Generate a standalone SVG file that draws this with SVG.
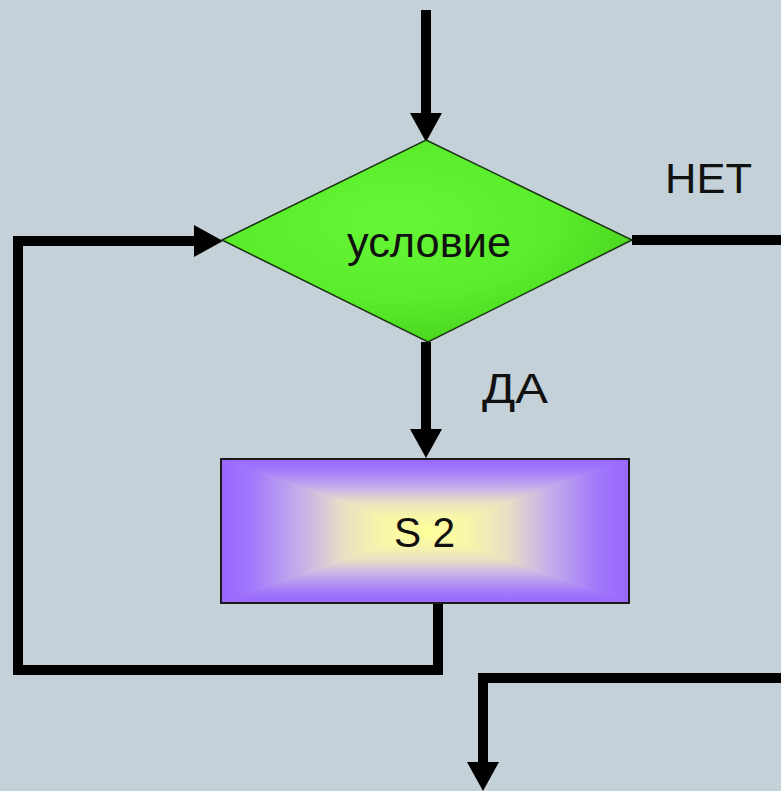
<svg xmlns="http://www.w3.org/2000/svg" width="781" height="791" viewBox="0 0 781 791">
  <style>
    .wire { fill: none; stroke: #000; stroke-width: 10; stroke-linejoin: miter; }
    .label { font-family: "Liberation Sans", Arial, sans-serif; fill: #111; }
  </style>
  <defs>
    <marker id="head" markerUnits="userSpaceOnUse" markerWidth="29" markerHeight="32" refX="0" refY="16" orient="auto" overflow="visible">
      <path d="M0,0 L29,16 L0,32 z" fill="#000"/>
    </marker>
    <radialGradient id="green" cx="0.42" cy="0.4" r="0.65">
      <stop offset="0" stop-color="#66f636"/>
      <stop offset="0.6" stop-color="#5aed2b"/>
      <stop offset="1" stop-color="#47d21f"/>
    </radialGradient>
    <!-- rectangular "from centre" fill: a vertical ramp for the top and bottom
         quarters, horizontal ramps for the left and right ones, seams on the diagonals -->
    <linearGradient id="fillV" x1="0" y1="459" x2="0" y2="603" gradientUnits="userSpaceOnUse">
      <stop offset="0" stop-color="#9966ff"/>
      <stop offset="0.075" stop-color="#a078fb"/>
      <stop offset="0.2" stop-color="#c8b0ea"/>
      <stop offset="0.3" stop-color="#e8e0c4"/>
      <stop offset="0.4" stop-color="#f8f6a8"/>
      <stop offset="0.5" stop-color="#ffff99"/>
      <stop offset="0.6" stop-color="#f8f6a8"/>
      <stop offset="0.7" stop-color="#e8e0c4"/>
      <stop offset="0.8" stop-color="#c8b0ea"/>
      <stop offset="0.925" stop-color="#a078fb"/>
      <stop offset="1" stop-color="#9966ff"/>
    </linearGradient>
    <linearGradient id="fillL" x1="221" y1="0" x2="425" y2="0" gradientUnits="userSpaceOnUse">
      <stop offset="0" stop-color="#9966ff"/>
      <stop offset="0.15" stop-color="#a078fb"/>
      <stop offset="0.4" stop-color="#c8b0ea"/>
      <stop offset="0.6" stop-color="#e8e0c4"/>
      <stop offset="0.8" stop-color="#f8f6a8"/>
      <stop offset="1" stop-color="#ffff99"/>
    </linearGradient>
    <linearGradient id="fillR" x1="629" y1="0" x2="425" y2="0" gradientUnits="userSpaceOnUse">
      <stop offset="0" stop-color="#9966ff"/>
      <stop offset="0.15" stop-color="#a078fb"/>
      <stop offset="0.4" stop-color="#c8b0ea"/>
      <stop offset="0.6" stop-color="#e8e0c4"/>
      <stop offset="0.8" stop-color="#f8f6a8"/>
      <stop offset="1" stop-color="#ffff99"/>
    </linearGradient>
  </defs>

  <rect x="0" y="0" width="781" height="791" fill="#c5d1d8"/>

  <g id="connectors">
    <path class="wire" d="M426,10 V113" marker-end="url(#head)"/>
    <path class="wire" d="M438,603 V670 H18 V241 H194" marker-end="url(#head)"/>
    <path class="wire" d="M426,342 V429" marker-end="url(#head)"/>
    <path class="wire" d="M632,240 H781"/>
    <path class="wire" d="M781,678 H483 V762" marker-end="url(#head)"/>
  </g>

  <g id="condition">
    <polygon points="426,140 632,240 428,342 222,240" fill="url(#green)" stroke="#1c3312" stroke-width="1.5"/>
    <text class="label" x="347" y="257" font-size="42" textLength="164" lengthAdjust="spacingAndGlyphs">условие</text>
  </g>

  <g id="label-no">
    <text class="label" x="665" y="193" font-size="42" textLength="87" lengthAdjust="spacingAndGlyphs">НЕТ</text>
  </g>

  <g id="label-yes">
    <text class="label" x="482" y="403" font-size="43" textLength="66" lengthAdjust="spacingAndGlyphs">ДА</text>
  </g>

  <g id="s2">
    <rect x="221" y="459" width="408" height="144" fill="url(#fillV)"/>
    <polygon points="221,459 425,531 221,603" fill="url(#fillL)"/>
    <polygon points="629,459 425,531 629,603" fill="url(#fillR)"/>
    <rect x="221" y="459" width="408" height="144" fill="none" stroke="#1a1a1a" stroke-width="2"/>
    <text class="label" x="394" y="547" font-size="42" textLength="61" lengthAdjust="spacingAndGlyphs">S 2</text>
  </g>
</svg>
